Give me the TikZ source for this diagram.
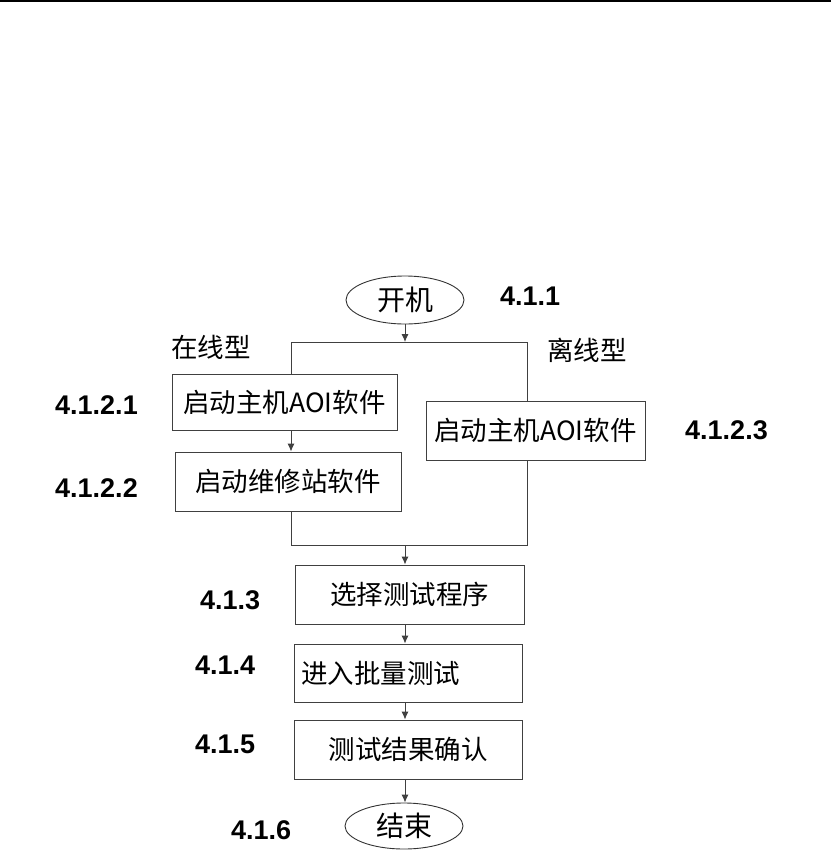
\documentclass[tikz,border=0pt]{standalone}
\usepackage{fontspec}
\setmainfont{Liberation Sans}
\newfontfamily\cjk{Noto Sans CJK SC}
\usetikzlibrary{arrows.meta,shapes.geometric}
\begin{document}
\begin{tikzpicture}[x=1pt,y=-1pt,
  box/.style={draw=black!75,line width=0.9pt,rectangle,inner sep=0pt,font=\cjk\fontsize{26.5}{28}\selectfont},
  oval/.style={draw=black!80,line width=0.9pt,ellipse,inner sep=0pt,font=\cjk\fontsize{28}{30}\selectfont},
  num/.style={font=\bfseries\fontsize{27}{29}\selectfont,inner sep=0pt},
  tag/.style={font=\cjk\fontsize{26.5}{28}\selectfont,inner sep=0pt},
  ln/.style={draw=black!75,line width=0.9pt},
  arr/.style={ln,-{Latex[length=8pt,width=7pt]}}]
\useasboundingbox (0,0) rectangle (831,852);
\draw[line width=2pt] (0,1) -- (831,1);
% nodes
\node[oval,minimum width=118pt,minimum height=48pt] (start) at (405,300) {开机};
\node[box,minimum width=225pt,minimum height=56pt] (a1) at (284.5,402) {启动主机AOI软件};
\node[box,minimum width=226pt,minimum height=59pt] (a2) at (288,481.5) {启动维修站软件};
\node[box,minimum width=219pt,minimum height=59pt] (b) at (535.5,430.5) {启动主机AOI软件};
\node[box,minimum width=229pt,minimum height=59pt] (c) at (409.5,594.5) {选择测试程序};
\node[box,minimum width=228pt,minimum height=58pt,text width=214pt,align=left] (d) at (408,673) {进入批量测试};
\node[box,minimum width=228pt,minimum height=59pt] (e) at (408,749.5) {测试结果确认};
\node[oval,minimum width=118pt,minimum height=46pt] (end) at (404,826) {结束};
% labels
\node[tag] (t1) at (211,347) {在线型};
\node[tag] (t2) at (587,350) {离线型};
\node[num,anchor=west] (n1) at (500,296) {4.1.1};
\node[num,anchor=west] (n2) at (55,405) {4.1.2.1};
\node[num,anchor=west] (n3) at (55,488) {4.1.2.2};
\node[num,anchor=west] (n4) at (685,430) {4.1.2.3};
\node[num,anchor=west] (n5) at (200,600) {4.1.3};
\node[num,anchor=west] (n6) at (195,665) {4.1.4};
\node[num,anchor=west] (n7) at (195,744) {4.1.5};
\node[num,anchor=west] (n8) at (231,830) {4.1.6};
% connectors
\coordinate (split) at (405,342);
\coordinate (sl) at (291,342);
\coordinate (sr) at (527,342);
\coordinate (jl) at (291,545);
\coordinate (jr) at (527,545);
\coordinate (jm) at (405,545);
\draw[arr] (start.south) -- (split);
\draw[ln] (sl) -- (sr);
\draw[ln] (sl) -- (sl |- a1.north);
\draw[ln] (sr) -- (sr |- b.north);
\draw[arr] (a1.south -| sl) -- (a2.north -| sl);
\draw[ln] (a2.south -| jl) -- (jl) -- (jr) -- (b.south -| jr);
\draw[arr] (jm) -- (c.north -| jm);
\draw[arr] (c.south -| jm) -- (d.north -| jm);
\draw[arr] (d.south -| jm) -- (e.north -| jm);
\draw[arr] (e.south -| jm) -- (end.north -| jm);
\end{tikzpicture}
\end{document}
